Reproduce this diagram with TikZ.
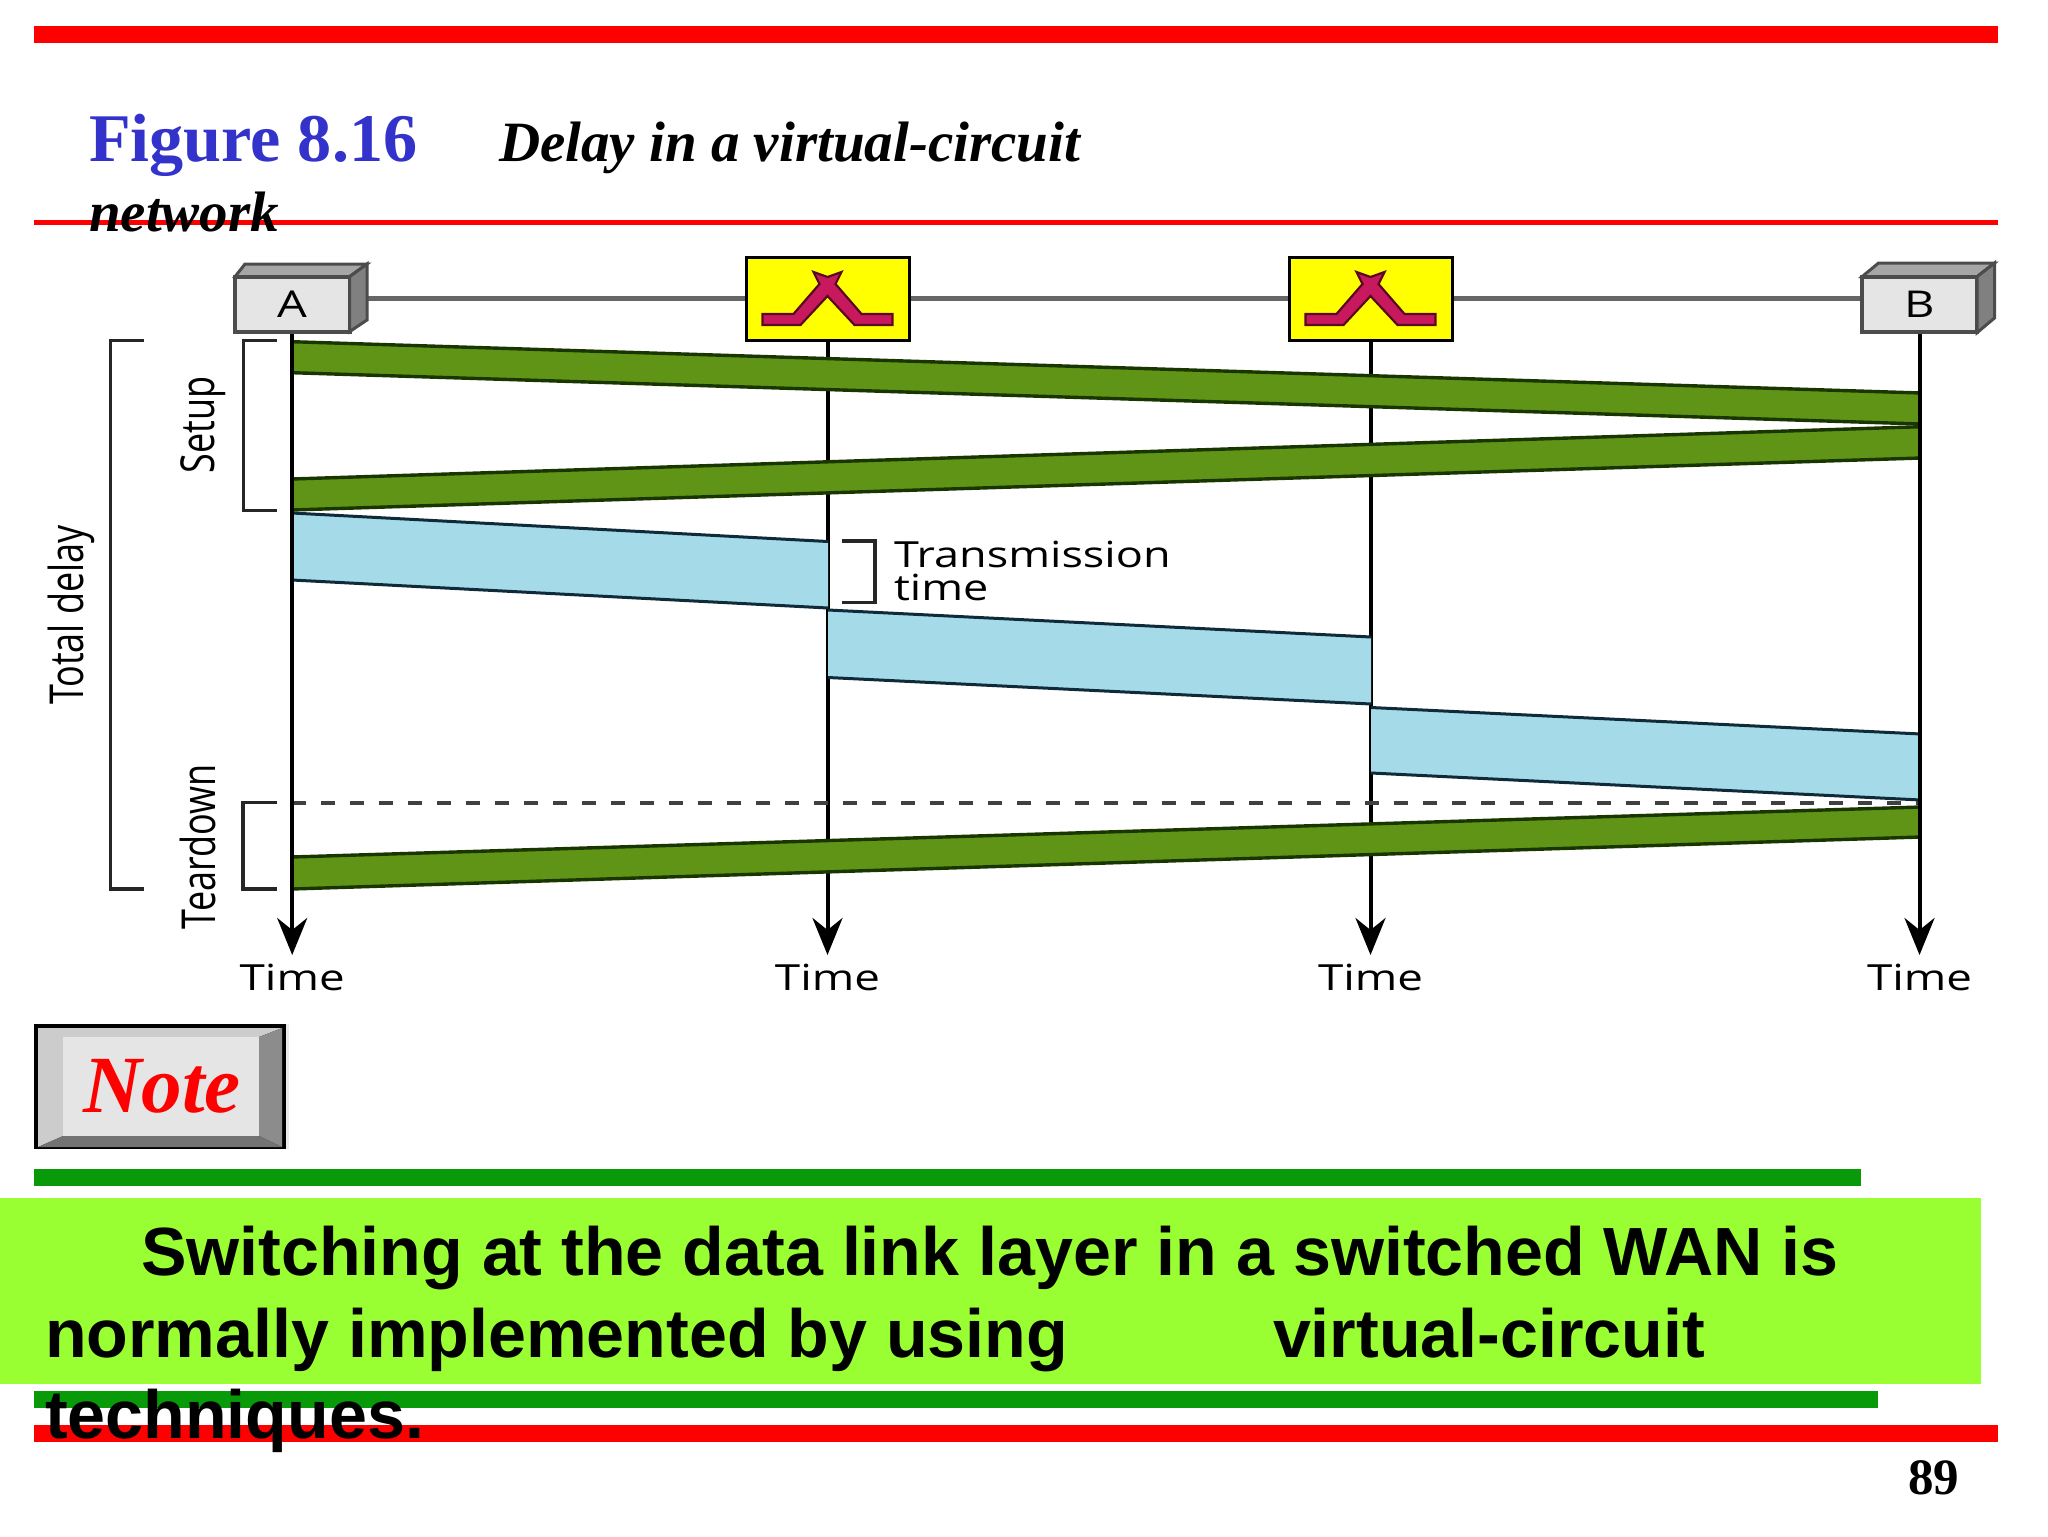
\documentclass[tikz,border=0pt]{standalone}
\usepackage{fontspec}
\usepackage{graphicx}
\usetikzlibrary{arrows.meta}
\setmainfont{Liberation Serif}
\newfontfamily\arialf{Liberation Sans}
\newfontfamily\diagf{Open Sans}
\definecolor{redbar}{HTML}{FF0000}
\definecolor{titleblue}{HTML}{3333CC}
\definecolor{bandgreen}{HTML}{5F9416}
\definecolor{edgegreen}{HTML}{1A3600}
\definecolor{bandblue}{HTML}{A5DBE9}
\definecolor{edgeblue}{HTML}{0F2A38}
\definecolor{barstrip}{HTML}{089A08}
\definecolor{limefill}{HTML}{99FF33}
\definecolor{symfill}{HTML}{C8185E}
\definecolor{symedge}{HTML}{5A0A20}
\definecolor{boxyellow}{HTML}{FFFF00}
\newcommand{\widetext}[1]{\scalebox{1.27}[1]{#1}}
\newcommand{\widertwo}[1]{\scalebox{1.25}[1]{#1}}
\newcommand{\tallrot}[1]{\scalebox{1}[1.3]{#1}}
\newcommand{\bandshape}[8]{%
  \fill[#7] (#1,#2)--(#3,#4)--(#3,#6)--(#1,#5)--cycle;
  \draw[#8] (#1,#2)--(#3,#4);
  \draw[#8] (#1,#5)--(#3,#6);}
\newcommand{\symshape}[1]{%
  \draw[shift={(#1,0)},fill=symfill,draw=symedge,line width=1.1pt,line join=miter]
    (-65,325)--(-65,314)--(-34,314)--(-8,284)--(-14,272)--(0,277)--(14,272)--(8,284)--(34,314)--(65,314)--(65,325)--(27,325)--(0,296)--(-27,325)--cycle;}
\tikzset{
  flatbar/.style={fill=#1,draw=none},
  plain/.style={anchor=base west,inner sep=0pt,outer sep=0pt},
  diag/.style={font=\diagf\fontsize{18}{18}\selectfont,inner sep=0pt,outer sep=0pt,text=black},
  endnode/.style={draw=black!70,line width=1.8pt,fill=black!10,minimum width=57.5pt,minimum height=27.5pt,inner sep=0pt,font=\diagf\fontsize{18.5}{18.5}\selectfont},
  switchbox/.style={draw=black,line width=1.5pt,fill=boxyellow,minimum width=81.5pt,minimum height=41.5pt,inner sep=0pt},
  hline/.style={draw=black!60,line width=2.2pt},
  timeline/.style={draw=black,line width=2pt,-{Stealth[length=18.5pt,width=15pt,inset=6pt]}},
  brk/.style={draw=black!85,line width=1.6pt},
  sideline/.style={draw=black!70,line width=1.5pt},
}
\begin{document}
\begin{tikzpicture}[x=0.5pt,y=-0.5pt]
\useasboundingbox (0,0) rectangle (2048,1536);
% bars
\fill[flatbar=redbar] (34,26) rectangle (1998,43);
\fill[flatbar=redbar] (34,220) rectangle (1998,225);
% nodes
\node[endnode] (A) at (292.2,304.2) {\widetext{A}};
\node[endnode] (B) at (1919.5,304.7) {\widetext{B}};
\node[switchbox] (S1) at (827.5,298.5) {};
\node[switchbox] (S2) at (1370.5,298.5) {};
\symshape{827.5}
\symshape{1370.5}
% link
\draw[hline] (A.east |- S1.west) -- (S1.west);
\draw[hline] (S1.east) -- (S2.west);
\draw[hline] (S2.east) -- (B.west |- S2.east);
% end box sides
\filldraw[fill=black!35,sideline] (235,276.7)--(245,264)--(367,264)--(349.5,276.7)--cycle;
\filldraw[fill=black!50,sideline] (349.5,276.7)--(367,264)--(367,320)--(349.5,331.7)--cycle;
\filldraw[fill=black!35,sideline] (1862,276.7)--(1878.5,263)--(1994.5,263)--(1977,276.7)--cycle;
\filldraw[fill=black!50,sideline] (1977,276.7)--(1994.5,263)--(1994.5,318)--(1977,332.7)--cycle;
% time tips and labels
\coordinate (tipA) at (A |- 0,955);
\coordinate (tipB) at (B |- 0,955);
\coordinate (tipC) at (S1 |- 0,955);
\coordinate (tipD) at (S2 |- 0,955);
\draw[timeline] (S1.south) -- (tipC);
\draw[timeline] (S2.south) -- (tipD);
% bands
\bandshape{292}{513}{828}{541.5}{580}{608}{bandblue}{edgeblue,line width=1.5pt}
\bandshape{828}{610}{1371}{637}{677.5}{704}{bandblue}{edgeblue,line width=1.5pt}
\bandshape{1371}{707.5}{1921}{734}{773}{800}{bandblue}{edgeblue,line width=1.5pt}
\draw[draw=black!75,line width=2pt,dash pattern=on 7pt off 7.5pt] (A |- 0,802.5) -- (B |- 0,802.5);
\bandshape{292}{341.7}{1921}{393}{372.7}{424}{bandgreen}{edgegreen,line width=1.7pt}
\bandshape{292}{479}{1921}{426.7}{510}{458}{bandgreen}{edgegreen,line width=1.7pt}
\bandshape{292}{857}{1921}{807}{889}{837}{bandgreen}{edgegreen,line width=1.7pt}
\draw[timeline] (A.south) -- (tipA);
\draw[timeline] (B.south) -- (tipB);
\node[diag,anchor=base] (tA) at (A |- 0,990) {\widetext{Time}};
\node[diag,anchor=base] (tB) at (B |- 0,990) {\widetext{Time}};
\node[diag,anchor=base] (tC) at (S1 |- 0,990) {\widetext{Time}};
\node[diag,anchor=base] (tD) at (S2 |- 0,990) {\widetext{Time}};
% brackets
\draw[brk] (143.5,340.7)--(110.5,340.7)--(110.5,889)--(144,889);
\draw[brk] (277,340.7)--(243.6,340.7)--(243.6,510.7)--(277,510.7);
\draw[brk] (277,802.7)--(243,802.7)--(243,889)--(277,889);
\draw[brk] (842,541)--(875,541)--(875,602.7)--(842,602.7);
% rotated labels
\node[diag,rotate=90,anchor=base] (lTotal) at (83,615) {\tallrot{Total delay}};
\node[diag,rotate=90,anchor=base] (lSetup) at (214,425) {\tallrot{Setup}};
\node[diag,rotate=90,anchor=base] (lTear) at (215,847) {\tallrot{Teardown}};
\node[diag,anchor=base west] (tr1) at (894,567) {\widertwo{Transmission}};
\node[diag,anchor=base west] (tr2) at (894,600) {\widertwo{time}};
% note key
\fill[black!8] (286,1024) rectangle (289,1149);
\fill[black] (34,1024) rectangle (286,1149);
\fill[black!20] (38,1028)--(282,1028)--(259,1037)--(63,1037)--(63,1136)--(38,1147)--cycle;
\fill[black!45] (282,1028)--(282,1147)--(259,1136)--(259,1037)--cycle;
\fill[black!55] (38,1147)--(282,1147)--(259,1136)--(63,1136)--cycle;
\fill[black!10] (63,1037) rectangle (259,1136);
\node[plain,text=red,font=\fontsize{40.6}{40.6}\selectfont\bfseries\itshape] (note) at (83,1112) {Note};
% lower bars
\fill[flatbar=barstrip] (34,1169) rectangle (1861,1186);
\fill[flatbar=limefill] (0,1198) rectangle (1981,1384);
\fill[flatbar=barstrip] (34,1391) rectangle (1878,1408);
\fill[flatbar=redbar] (34,1425) rectangle (1998,1442);
% title
\node[plain,text=titleblue,font=\fontsize{34.1}{34}\selectfont\bfseries] (fig) at (89,161.5) {Figure 8.16};
\node[plain,font=\fontsize{28.5}{28}\selectfont\bfseries\itshape] (cap1) at (499,161) {Delay in a virtual-circuit};
\node[plain,font=\fontsize{28.5}{28}\selectfont\bfseries\itshape] (cap2) at (89,231) {network};
% body text
\node[plain,font=\arialf\fontsize{34.1}{34}\selectfont\bfseries] (b1) at (141,1275) {Switching at the data link layer in a switched WAN is};
\node[plain,font=\arialf\fontsize{34.1}{34}\selectfont\bfseries] (b2) at (45,1357) {normally implemented by using};
\node[plain,font=\arialf\fontsize{34.1}{34}\selectfont\bfseries] (b3) at (1273,1357) {virtual-circuit};
\node[plain,font=\arialf\fontsize{34.1}{34}\selectfont\bfseries] (b4) at (45,1438) {techniques.};
\node[plain,font=\fontsize{25.5}{25.5}\selectfont\bfseries] (pg) at (1908,1494) {89};
\end{tikzpicture}
\end{document}
